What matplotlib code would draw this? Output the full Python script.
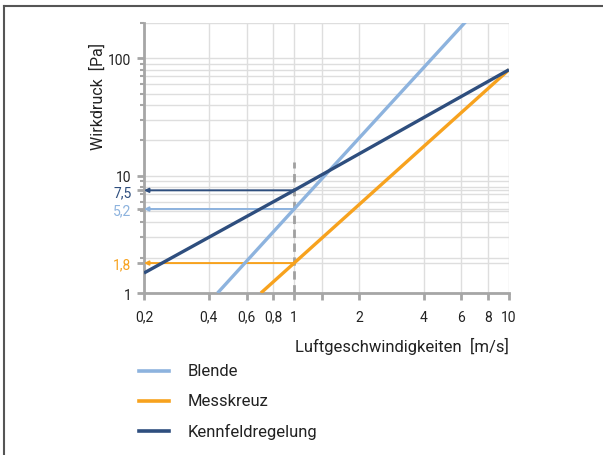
import matplotlib
matplotlib.use("Agg")
import matplotlib.pyplot as plt
from matplotlib.lines import Line2D
from matplotlib.ticker import FixedLocator, LogLocator, NullFormatter

plt.rcParams['font.family'] = ['Roboto', 'DejaVu Sans']

# ---- data ----
series_names = ["Blende", "Messkreuz", "Kennfeldregelung"]
v_blende = [0.44, 1.0, 6.6]
p_blende = [1.0, 5.2, 226.0]
v_messkreuz = [0.70, 1.0, 10.0]
p_messkreuz = [1.0, 1.8, 80.0]
v_kennfeld = [0.2, 1.0, 10.0]
p_kennfeld = [1.48, 7.5, 80.0]

ref_speed = 1.0
ref_values = [7.5, 5.2, 1.8]
ref_labels = ["7,5", "5,2", "1,8"]
dash_top = 13.0

x_ticks = [0.2, 0.4, 0.6, 0.8, 1, 1.35, 2, 4, 6, 8, 10]
x_ticklabels = ["0,2", "0,4", "0,6", "0,8", "1", "", "2", "4", "6", "8", "10"]
y_major = [1, 10, 100]
y_major_labels = ["1", "10", "100"]

c_blende = "#8db3de"
c_mess = "#f7a21e"
c_kenn = "#2e4e7e"
ref_colors = [c_kenn, c_blende, c_mess]
spine_c = "#a6a6a6"
grid_c = "#dedede"
text_c = "#222222"

fig = plt.figure(figsize=(6.03, 4.56), dpi=100)
W, H = 603, 456
ax = fig.add_axes([144 / W, 1 - 294 / H, (509 - 144) / W, (294 - 24) / H])
ax.set_xscale("log")
ax.set_yscale("log")
ax.set_xlim(0.2, 10)
ax.set_ylim(1, 200)

ax.xaxis.set_major_locator(FixedLocator(x_ticks))
ax.set_xticklabels(x_ticklabels)
ax.xaxis.set_minor_locator(FixedLocator([]))
ax.set_yticks(y_major + ref_values)
ax.set_yticklabels(y_major_labels + ref_labels)
ax.yaxis.set_minor_locator(LogLocator(base=10, subs=range(2, 10)))
ax.yaxis.set_minor_formatter(NullFormatter())

ax.grid(True, which="both", color=grid_c, lw=1.0, zorder=0)
ax.set_axisbelow(True)

for s in ["top", "right"]:
    ax.spines[s].set_visible(False)
for s in ["left", "bottom"]:
    ax.spines[s].set_color(spine_c)
    ax.spines[s].set_linewidth(2)
ax.tick_params(which="major", direction="out", length=5, width=2, color=spine_c,
               labelsize=10, labelcolor=text_c)
ax.tick_params(axis="x", which="major", pad=7)
ax.tick_params(axis="y", which="major", pad=4)
ax.tick_params(which="minor", direction="out", length=3, width=1.5, color=spine_c)
for lab, col in zip(ax.get_yticklabels()[3:], ref_colors):
    lab.set_color(col)

# dashed reference
ax.plot([ref_speed, ref_speed], [1, dash_top], ls=(0, (3, 2)), color="#a0a0a0", lw=2, zorder=2,
        clip_on=False)

# reference arrows
for val, col in zip(ref_values, ref_colors):
    ax.annotate("", xy=(0.2, val), xytext=(ref_speed, val),
                arrowprops=dict(arrowstyle="-|>", color=col, lw=1.4,
                                mutation_scale=6, shrinkA=0, shrinkB=0),
                zorder=3)

# main lines
ax.plot(v_blende, p_blende, color=c_blende, lw=2.4, zorder=4, solid_capstyle="butt")
ax.plot(v_messkreuz, p_messkreuz, color=c_mess, lw=2.4, zorder=4, solid_capstyle="butt")
ax.plot(v_kennfeld, p_kennfeld, color=c_kenn, lw=2.4, zorder=5, solid_capstyle="butt")

# axis labels
fig.text(509 / W, 1 - 346 / H, "Luftgeschwindigkeiten  [m/s]", ha="right", va="center",
         fontsize=12, color=text_c)
fig.text(98 / W, 1 - 97 / H, "Wirkdruck  [Pa]", rotation=90, ha="center", va="center",
         fontsize=11.5, color=text_c)

# legend
leg_y = [372, 402, 432]
for name, col, y in zip(series_names, [c_blende, c_mess, c_kenn], leg_y):
    fig.add_artist(Line2D([139 / W, 169 / W], [1 - y / H, 1 - y / H], color=col, lw=2.6))
    fig.text(188 / W, 1 - y / H, name, ha="left", va="center", fontsize=12, color=text_c)

# frame
fig.add_artist(Line2D([4 / W, 4 / W], [0, 1 - 7 / H], color="#555555", lw=1.5))
fig.add_artist(Line2D([4 / W, 1], [1 - 7 / H, 1 - 7 / H], color="#555555", lw=1.5))

fig.savefig("out.png", dpi=100)
